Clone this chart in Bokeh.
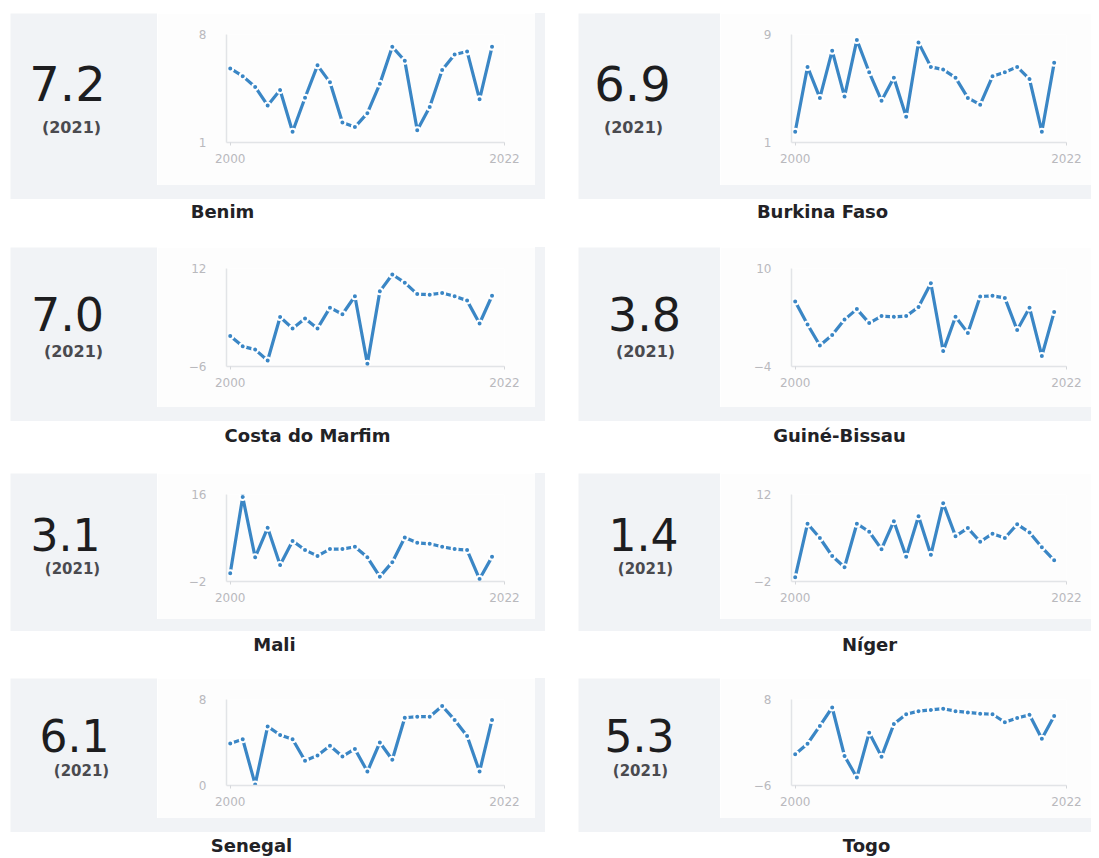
from bokeh.plotting import figure
from bokeh.layouts import row, column
from bokeh.models import Range1d, FixedTicker, Spacer
from bokeh.core.properties import value
from bokeh.embed import file_html
from bokeh.resources import INLINE

# ---------------- data ----------------
years = list(range(2000, 2022))
countries = ["Benim", "Burkina Faso", "Costa do Marfim", "Guiné-Bissau",
             "Mali", "Níger", "Senegal", "Togo"]

benim = [5.8, 5.3, 4.6, 3.4, 4.4, 1.7, 3.9, 6.0, 4.9, 2.3, 2.0, 2.9,
         4.8, 7.2, 6.3, 1.8, 3.3, 5.7, 6.7, 6.9, 3.8, 7.2]
burkina = [1.8, 6.6, 4.3, 7.8, 4.4, 8.6, 6.2, 4.1, 5.8, 2.9, 8.4, 6.6,
           6.4, 5.8, 4.3, 3.8, 5.9, 6.2, 6.6, 5.7, 1.8, 6.9]
costa = [-0.4, -2.3, -2.9, -4.9, 3.1, 1.0, 2.8, 1.0, 4.8, 3.6, 6.9, -5.5,
         7.8, 10.9, 9.4, 7.3, 7.2, 7.5, 6.9, 6.1, 1.9, 7.0]
guine = [5.3, 2.0, -1.0, 0.5, 2.7, 4.2, 2.2, 3.2, 3.1, 3.2, 4.5, 7.9,
         -1.8, 3.1, 0.8, 6.0, 6.1, 5.8, 1.2, 4.4, -2.5, 3.8]
mali = [-0.3, 15.5, 3.0, 9.1, 1.4, 6.4, 4.5, 3.3, 4.7, 4.7, 5.2, 3.0,
        -1.0, 2.0, 7.1, 6.0, 5.8, 5.2, 4.7, 4.5, -1.5, 3.1]
niger = [-1.3, 7.3, 5.0, 2.1, 0.3, 7.3, 6.0, 3.2, 7.7, 2.0, 8.5, 2.3,
         10.6, 5.3, 6.6, 4.4, 5.7, 5.0, 7.2, 5.9, 3.5, 1.4]
senegal = [3.9, 4.3, 0.1, 5.5, 4.7, 4.3, 2.3, 2.8, 3.7, 2.7, 3.4, 1.3,
           4.0, 2.4, 6.3, 6.4, 6.4, 7.4, 6.1, 4.6, 1.3, 6.1]
togo = [-0.9, 0.8, 3.7, 6.7, -1.2, -4.7, 2.6, -1.3, 4.0, 5.6, 6.1, 6.3,
        6.5, 6.1, 5.9, 5.7, 5.6, 4.3, 5.0, 5.5, 1.6, 5.3]
series = [benim, burkina, costa, guine, mali, niger, senegal, togo]

latest_values = ["7.2", "6.9", "7.0", "3.8", "3.1", "1.4", "6.1", "5.3"]
latest_year = "(2021)"
y_min = [1, 1, -6, -4, -2, -2, 0, -6]
y_max = [8, 9, 12, 10, 16, 12, 8, 8]
x_ticks = [2000, 2022]

# ---------------- styling / layout constants ----------------
GRAY = "#f1f3f6"
WHITE = "#fdfdfd"
BLUE = "#3a86c5"

gray_h = [186, 174, 158, 154]
white_h = [172, 160, 146, 140]
label_h = [48, 52, 47, 24]
frame_h = [108, 98, 87, 86]
num_y = [70, 66, 61, 57]
year_y = [114, 104, 95, 92]
num_size = [48, 46, 44, 44]
year_size = [16, 16, 15, 15]
num_x = [57, 54, 57, 66, 55, 65, 64, 61]
year_x = [61, 55, 63, 67, 62, 67, 71, 62]
label_x = [212, 244, 297, 261, 264, 291, 241, 288]
label_y = [12, 14, 13, 13]

box_w = [147, 142]
spark_w = [378, 371]
right_pad = [10, 0]
border_l = [69, 71]
border_r = [31, 25]


def number_box(w, h, num, nx, ny, nsize, yx, yy, ysize):
    p = figure(width=w, height=h, x_range=Range1d(0, w), y_range=Range1d(h, 0),
               toolbar_location=None, output_backend="svg", min_border=0,
               x_axis_location=None, y_axis_location=None,
               outline_line_color=None, background_fill_color=GRAY,
               border_fill_color=GRAY)
    p.grid.visible = False
    p.text(x=[nx], y=[ny], text=[num], text_font=value("DejaVu Sans"),
           text_font_size=f"{nsize}px", text_align="center",
           text_baseline="middle", text_color="#1d1d1f")
    p.text(x=[yx], y=[yy], text=[latest_year], text_font=value("DejaVu Sans"),
           text_font_size=f"{ysize}px", text_font_style="bold",
           text_align="center", text_baseline="middle", text_color="#4a4a4f")
    return p


def spark(vals, lo, hi, w, h, bl, br, fh):
    bt = 21
    bb = h - bt - fh
    p = figure(width=w, height=h, x_range=Range1d(1999.7, 2022),
               y_range=Range1d(lo, hi), toolbar_location=None,
               output_backend="svg", min_border_left=bl, min_border_right=br,
               min_border_top=bt, min_border_bottom=bb,
               outline_line_color=None, background_fill_color=WHITE,
               border_fill_color=WHITE)
    p.grid.visible = False
    p.xaxis.ticker = FixedTicker(ticks=x_ticks)
    p.yaxis.ticker = FixedTicker(ticks=[lo, hi])
    for ax in (p.xaxis[0], p.yaxis[0]):
        ax.axis_line_color = "#e2e4e7"
        ax.axis_line_width = 1.5
        ax.minor_tick_line_color = None
        ax.major_label_text_color = "#b9b9bd"
        ax.major_label_text_font = "DejaVu Sans"
        ax.major_label_text_font_size = "12px"
    p.yaxis.major_tick_line_color = None
    p.yaxis.major_label_standoff = 14
    p.xaxis.major_tick_line_color = "#d5d7da"
    p.xaxis.major_tick_in = 0
    p.xaxis.major_tick_out = 3
    p.xaxis.major_label_standoff = 8
    p.line(years, vals, line_width=3.2, color=BLUE)
    p.scatter(years, vals, size=6, fill_color=BLUE, line_color="white",
              line_width=2)
    return p


def label_fig(w, h, txt, lx, ly):
    p = figure(width=w, height=h, x_range=Range1d(0, w), y_range=Range1d(h, 0),
               toolbar_location=None, output_backend="svg", min_border=0,
               x_axis_location=None, y_axis_location=None,
               outline_line_color=None, background_fill_color="white",
               border_fill_color="white")
    p.grid.visible = False
    p.text(x=[lx], y=[ly], text=[txt], text_font=value("DejaVu Sans"),
           text_font_size="18px", text_font_style="bold", text_align="center",
           text_baseline="middle", text_color="#222226")
    return p


def panel(i):
    r, c = divmod(i, 2)
    nb = number_box(box_w[c], gray_h[r], latest_values[i], num_x[i], num_y[r],
                     num_size[r], year_x[i], year_y[r], year_size[r])
    sp = spark(series[i], y_min[i], y_max[i], spark_w[c], white_h[r],
               border_l[c], border_r[c], frame_h[r])
    strip = Spacer(width=spark_w[c], height=gray_h[r] - white_h[r],
                   styles={"background-color": GRAY})
    parts = [nb, column(sp, strip, spacing=0)]
    if right_pad[c]:
        parts.append(Spacer(width=right_pad[c], height=gray_h[r],
                            styles={"background-color": GRAY}))
    total_w = box_w[c] + spark_w[c] + right_pad[c]
    lab = label_fig(total_w, label_h[r], countries[i], label_x[i], label_y[r])
    return column(row(*parts, spacing=0), lab, spacing=0)


col1 = column(*[panel(i) for i in range(0, 8, 2)], spacing=0)
col2 = column(*[panel(i) for i in range(1, 8, 2)], spacing=0)
body = column(Spacer(width=1091, height=13),
              row(Spacer(width=10, height=10), col1, Spacer(width=33, height=10),
                  col2, spacing=0),
              spacing=0)

open("out.html", "w").write(file_html(body, INLINE))
